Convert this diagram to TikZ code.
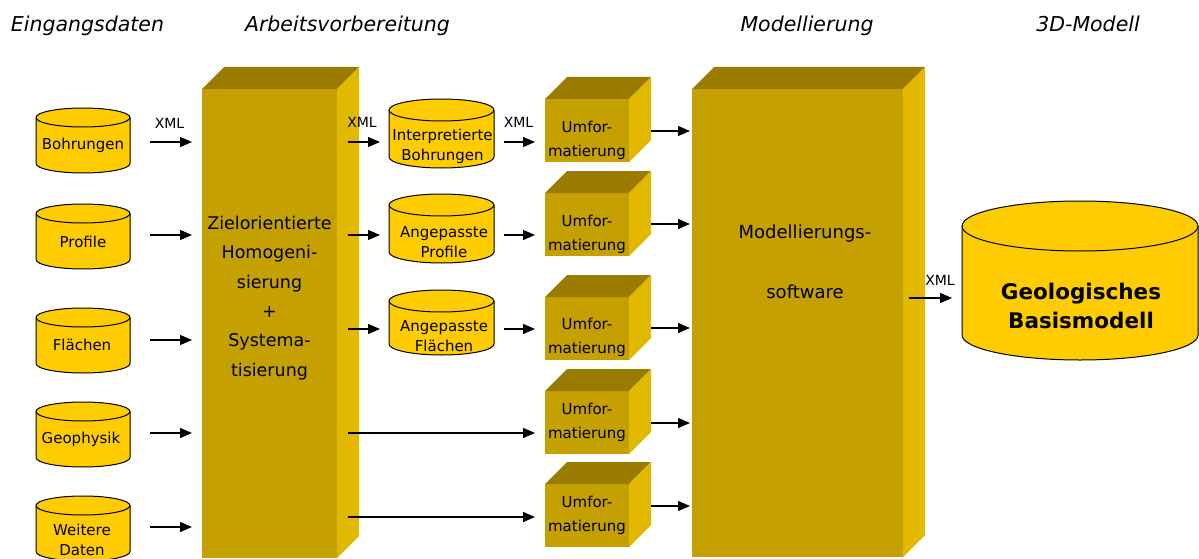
\documentclass[tikz,border=0pt]{standalone}
\usepackage{fontspec}
\setmainfont{DejaVu Sans}[ItalicFont={DejaVu Sans Oblique},BoldFont={DejaVu Sans Bold}]
\usetikzlibrary{arrows.meta}
\definecolor{cylyellow}{HTML}{FFCC00}
\definecolor{boxfront}{HTML}{C4A000}
\definecolor{boxtop}{HTML}{9A7B00}
\definecolor{boxside}{HTML}{E0B900}
\tikzset{
  cylbody/.style={fill=cylyellow,draw=black,line width=1pt},
  cylrim/.style={draw=black,line width=1pt},
  frontbox/.style={fill=boxfront,draw=none,inner sep=0pt,outer sep=0pt},
  topface/.style={fill=boxtop},
  sideface/.style={fill=boxside},
  arr/.style={-{Triangle[length=12pt,width=10pt]},line width=1.3pt},
  cyltext/.style={font=\fontsize{15}{20}\selectfont,align=center,inner sep=0pt},
  umftext/.style={font=\fontsize{15}{24}\selectfont,align=center,inner sep=0pt},
  xmltext/.style={font=\fontsize{14}{16}\selectfont,inner sep=0pt},
  headtext/.style={font=\itshape\fontsize{20.5}{24}\selectfont,anchor=base,inner sep=0pt},
}
\newcommand{\dbcyl}[6]{%
  \path[cylbody] (#2,-#4-#6) -- (#2,-#5+#6)
    arc[start angle=180,end angle=360,x radius={(#3-#2)/2},y radius=#6]
    -- (#3,-#4-#6)
    arc[start angle=0,end angle=180,x radius={(#3-#2)/2},y radius=#6] -- cycle;
  \draw[cylrim] (#2,-#4-#6) arc[start angle=180,end angle=360,x radius={(#3-#2)/2},y radius=#6];
  \node[inner sep=0pt,outer sep=0pt,minimum width={(#3-#2)*1pt},minimum height={(#5-#4)*1pt}] (#1) at ({(#2+#3)/2},{-(#4+#5)/2}) {};
}
\newcommand{\cubefaces}[1]{%
  \fill[topface] (#1.north west) -- ++(22,22) -- ([shift={(22,22)}]#1.north east) -- (#1.north east) -- cycle;
  \fill[sideface] (#1.north east) -- ++(22,22) -- ([shift={(22,22)}]#1.south east) -- (#1.south east) -- cycle;
}
\begin{document}
\begin{tikzpicture}[x=1pt,y=1pt]
\fill[white] (0,0) rectangle (1199,-559);
\useasboundingbox (0,0) rectangle (1199,-559);

% headings
\node[headtext] (h1) at (87.5,-31.7) {Eingangsdaten};
\node[headtext] (h2) at (347.5,-31.7) {Arbeitsvorbereitung};
\node[headtext] (h3) at (807,-31.7) {Modellierung};
\node[headtext] (h4) at (1088,-31.7) {3D-Modell};

% input cylinders
\dbcyl{c1}{36}{130}{108}{173}{9.5}
\dbcyl{c2}{36}{130}{204}{269}{9.5}
\dbcyl{c3}{36}{130}{308}{373}{9.5}
\dbcyl{c4}{36}{130}{402}{467}{9.5}
\dbcyl{c5}{36}{130}{496}{561}{9.5}
\node[cyltext] (c1t) at (83,-145) {Bohrungen};
\node[cyltext] (c2t) at (83,-242) {Profile};
\node[cyltext] (c3t) at (82,-345) {Flächen};
\node[cyltext] (c4t) at (81,-439) {Geophysik};
\node[cyltext] (c5t) at (82,-539.5) {Weitere\\Daten};

% preparation box
\node[frontbox,minimum width=135pt,minimum height=469pt] (prep) at (269.5,-323.5) {};
\cubefaces{prep}
\node[align=center,inner sep=0pt,font=\fontsize{17.5}{29.4}\selectfont] (prept) at (269.5,-298) {Zielorientierte\\Homogeni-\\sierung\\+\\Systema-\\tisierung};

% intermediate cylinders
\dbcyl{m1}{389}{494}{99}{168}{11}
\dbcyl{m2}{389}{494}{194}{263}{11}
\dbcyl{m3}{389}{494}{290}{355}{11}
\node[cyltext] (m1t) at (442.5,-146.5) {Interpretierte\\Bohrungen};
\node[cyltext] (m2t) at (444,-242.5) {Angepasste\\Profile};
\node[cyltext] (m3t) at (444,-336) {Angepasste\\Flächen};

% reformatting boxes
\node[frontbox,minimum width=84pt,minimum height=63pt] (u1) at (587,-130.5) {};
\node[frontbox,minimum width=84pt,minimum height=63pt] (u2) at (587,-224.5) {};
\node[frontbox,minimum width=84pt,minimum height=63pt] (u3) at (587,-328.5) {};
\node[frontbox,minimum width=84pt,minimum height=63pt] (u4) at (587,-422.5) {};
\node[frontbox,minimum width=84pt,minimum height=63pt] (u5) at (587,-515.5) {};
\cubefaces{u1}
\cubefaces{u2}
\cubefaces{u3}
\cubefaces{u4}
\cubefaces{u5}
\node[umftext] (u1t) at (587,-140) {Umfor-\\matierung};
\node[umftext] (u2t) at (587,-234) {Umfor-\\matierung};
\node[umftext] (u3t) at (587,-337.5) {Umfor-\\matierung};
\node[umftext] (u4t) at (587,-422) {Umfor-\\matierung};
\node[umftext] (u5t) at (587,-515.5) {Umfor-\\matierung};

% modelling box
\node[frontbox,minimum width=211pt,minimum height=468pt] (model) at (797.5,-323) {};
\cubefaces{model}
\node[align=center,inner sep=0pt,font=\fontsize{18}{60}\selectfont] (modelt) at (805,-262) {Modellierungs-\\software};

% result cylinder
\dbcyl{geo}{962}{1198}{201}{360}{25}
\node[align=center,inner sep=0pt,font=\bfseries\fontsize{21.5}{29}\selectfont] (geot) at (1081,-306) {Geologisches\\Basismodell};

% row coordinates
\coordinate (ra1) at (0,-142);
\coordinate (ra2) at (0,-235);
\coordinate (ra3) at (0,-340);
\coordinate (ra4) at (0,-433);
\coordinate (ra5) at (0,-527);
\coordinate (rb3) at (0,-329);
\coordinate (rb5) at (0,-517);
\coordinate (rc1) at (0,-131);
\coordinate (rc2) at (0,-224);
\coordinate (rc3) at (0,-328);
\coordinate (rc4) at (0,-423);
\coordinate (rc5) at (0,-506);
\coordinate (rg) at (0,-298);

% inputs -> preparation
\draw[arr,shorten <=20pt,shorten >=10pt] (c1.east |- ra1) -- (prep.west |- ra1);
\draw[arr,shorten <=20pt,shorten >=10pt] (c2.east |- ra2) -- (prep.west |- ra2);
\draw[arr,shorten <=20pt,shorten >=10pt] (c3.east |- ra3) -- (prep.west |- ra3);
\draw[arr,shorten <=20pt,shorten >=10pt] (c4.east |- ra4) -- (prep.west |- ra4);
\draw[arr,shorten <=20pt,shorten >=10pt] (c5.east |- ra5) -- (prep.west |- ra5);

% preparation -> intermediate
\draw[arr,shorten <=11pt,shorten >=9pt] (prep.east |- ra1) -- (m1.west |- ra1);
\draw[arr,shorten <=11pt,shorten >=9pt] (prep.east |- ra2) -- (m2.west |- ra2);
\draw[arr,shorten <=11pt,shorten >=9pt] (prep.east |- rb3) -- (m3.west |- rb3);
\draw[arr,shorten <=11pt,shorten >=10pt] (prep.east |- ra4) -- (u4.west |- ra4);
\draw[arr,shorten <=11pt,shorten >=10pt] (prep.east |- rb5) -- (u5.west |- rb5);

% intermediate -> reformatting
\draw[arr,shorten <=10pt,shorten >=10pt] (m1.east |- ra1) -- (u1.west |- ra1);
\draw[arr,shorten <=10pt,shorten >=10pt] (m2.east |- ra2) -- (u2.west |- ra2);
\draw[arr,shorten <=10pt,shorten >=10pt] (m3.east |- rb3) -- (u3.west |- rb3);

% reformatting -> modelling
\draw[arr,shorten <=22pt,shorten >=2pt] (u1.east |- rc1) -- (model.west |- rc1);
\draw[arr,shorten <=22pt,shorten >=2pt] (u2.east |- rc2) -- (model.west |- rc2);
\draw[arr,shorten <=22pt,shorten >=2pt] (u3.east |- rc3) -- (model.west |- rc3);
\draw[arr,shorten <=22pt,shorten >=2pt] (u4.east |- rc4) -- (model.west |- rc4);
\draw[arr,shorten <=22pt,shorten >=2pt] (u5.east |- rc5) -- (model.west |- rc5);

% modelling -> result
\draw[arr,shorten <=6pt,shorten >=10pt] (model.east |- rg) -- (geo.west |- rg);

% XML labels
\node[xmltext] (x1) at (169.5,-123) {XML};
\node[xmltext] (x2) at (362,-122) {XML};
\node[xmltext] (x3) at (518.5,-122) {XML};
\node[xmltext] (x4) at (940,-280) {XML};
\end{tikzpicture}
\end{document}
